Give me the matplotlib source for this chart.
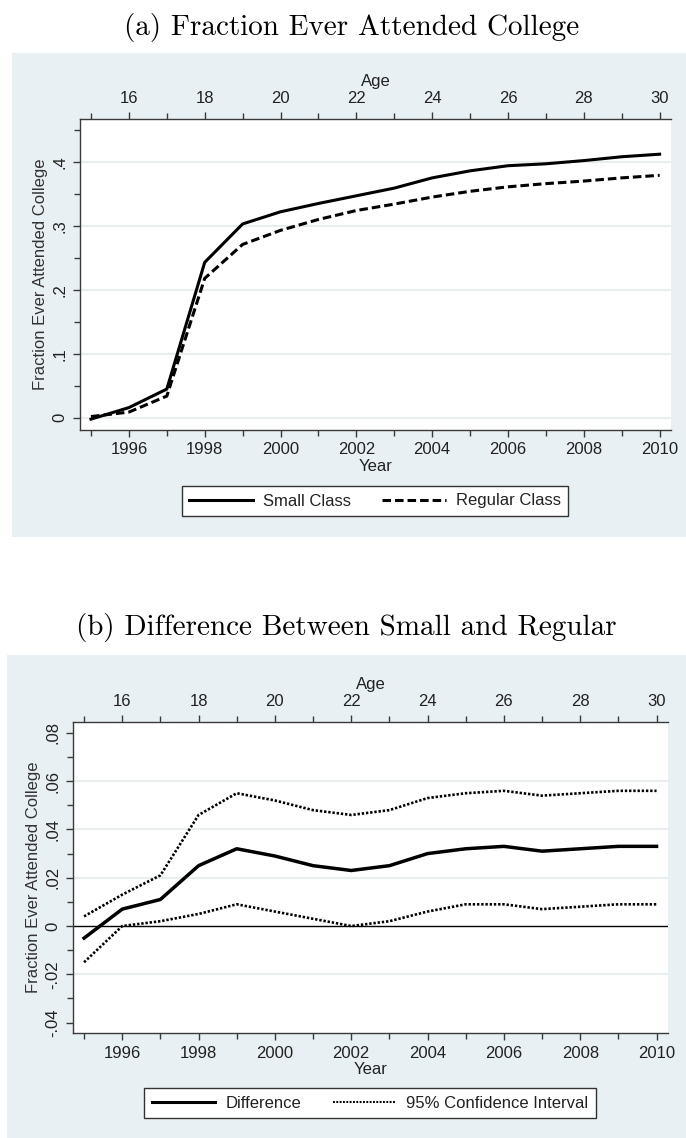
import matplotlib
matplotlib.use("Agg")
import matplotlib.pyplot as plt
from matplotlib.patches import Rectangle
from matplotlib.lines import Line2D
from matplotlib.ticker import FixedLocator, FuncFormatter

years = list(range(1995, 2011))
year_labels = list(range(1996, 2011, 2))
age_labels = list(range(16, 31, 2))

# panel (a): share ever attended college, by class type
small_class = [-0.002, 0.016, 0.045, 0.243, 0.303, 0.322, 0.335, 0.347,
               0.359, 0.375, 0.386, 0.394, 0.397, 0.402, 0.408, 0.412]
regular_class = [0.002, 0.009, 0.034, 0.218, 0.271, 0.293, 0.310, 0.324,
                 0.334, 0.345, 0.354, 0.361, 0.366, 0.370, 0.375, 0.379]

# panel (b): small minus regular with 95% CI
difference = [-0.005, 0.007, 0.011, 0.025, 0.032, 0.029, 0.025, 0.023,
              0.025, 0.030, 0.032, 0.033, 0.031, 0.032, 0.033, 0.033]
ci_upper = [0.004, 0.013, 0.021, 0.046, 0.055, 0.052, 0.048, 0.046,
            0.048, 0.053, 0.055, 0.056, 0.054, 0.055, 0.056, 0.056]
ci_lower = [-0.015, 0.000, 0.002, 0.005, 0.009, 0.006, 0.003, 0.000,
            0.002, 0.006, 0.009, 0.009, 0.007, 0.008, 0.009, 0.009]

W, H = 686, 1138
BG = "#e9f0f3"
AXC = "#3a3a3a"
SANS = "Liberation Sans"
FS = 12
CI_DOTS = (0, (0.9, 0.7))
DASHES = (0, (2.8, 1.3))

fig = plt.figure(figsize=(W / 100, H / 100), dpi=100)


def box(x0, y0, x1, y1):
    # pixel box (top-left origin) -> figure fraction rect
    return [x0 / W, 1 - y1 / H, (x1 - x0) / W, (y1 - y0) / H]


def stata_fmt(v, pos=None):
    if abs(v) < 1e-9:
        return "0"
    s = f"{v:.2f}".rstrip("0").rstrip(".")
    return s.replace("0.", ".", 1)


def add_background(x0, y0, x1, y1):
    l, b, w, h = box(x0, y0, x1, y1)
    fig.patches.append(Rectangle((l, b), w, h, transform=fig.transFigure,
                                 facecolor=BG, edgecolor="none", zorder=-5))


def style_ticks(axis_owner):
    axis_owner.tick_params(which="both", direction="out", color=AXC,
                           width=1.0, labelsize=FS, labelcolor="#222222",
                           pad=4)
    axis_owner.tick_params(which="major", length=5)
    axis_owner.tick_params(which="minor", length=4)


def style_axes(ax, ylim, ymajor, yminor, grid_vals, ylabelpad):
    ax.set_zorder(2)
    ax.set_xlim(1994.71, 2010.3)
    ax.set_ylim(*ylim)
    ax.set_facecolor("white")
    ax.spines["right"].set_visible(False)
    ax.spines["top"].set_visible(False)
    for s in ("left", "bottom"):
        ax.spines[s].set_color(AXC)
        ax.spines[s].set_linewidth(1.0)
    ax.xaxis.set_major_locator(FixedLocator(year_labels))
    ax.xaxis.set_minor_locator(FixedLocator(years))
    ax.yaxis.set_major_locator(FixedLocator(ymajor))
    ax.yaxis.set_minor_locator(FixedLocator(yminor))
    ax.yaxis.set_major_formatter(FuncFormatter(stata_fmt))
    style_ticks(ax)
    for lab in ax.get_yticklabels():
        lab.set_rotation(90)
        lab.set_va("center")
        lab.set_fontfamily(SANS)
    for lab in ax.get_xticklabels():
        lab.set_fontfamily(SANS)
    for v in grid_vals:
        ax.axhline(v, color="#eaeded", lw=1.6, zorder=0.5)
    ax.set_xlabel("Year", fontsize=FS, fontfamily=SANS, color="#222222",
                  labelpad=1)
    ax.set_ylabel("Fraction Ever Attended College", fontsize=FS,
                  fontfamily=SANS, color="#333333", labelpad=ylabelpad)

    top = ax.secondary_xaxis("top", functions=(lambda x: x - 1980,
                                               lambda x: x + 1980))
    top.xaxis.set_major_locator(FixedLocator(age_labels))
    top.xaxis.set_minor_locator(FixedLocator([y - 1980 for y in years]))
    top.spines["top"].set_color(AXC)
    top.spines["top"].set_linewidth(1.0)
    style_ticks(top)
    for lab in top.get_xticklabels():
        lab.set_fontfamily(SANS)
    top.set_xlabel("Age", fontsize=FS, fontfamily=SANS, color="#222222",
                   labelpad=4)
    return top


def add_legend(handles, labels, cx, cy, colsp):
    leg = fig.legend(handles, labels, loc="center",
                     bbox_to_anchor=(cx / W, 1 - cy / H), ncol=2,
                     frameon=True, fancybox=False, framealpha=1,
                     edgecolor="#333333", facecolor="white",
                     handlelength=3.8, handletextpad=0.6,
                     columnspacing=colsp, borderpad=0.45,
                     prop={"family": SANS, "size": FS})
    leg.get_frame().set_linewidth(1.0)
    leg.set_zorder(3)
    for t in leg.get_texts():
        t.set_color("#222222")
    return leg


# ---- panel (a) ----
add_background(12, 53, W, 537)
fig.text(0.512, 1 - 27 / H, "(a) Fraction Ever Attended College",
         fontfamily="cmr10", fontsize=21, ha="center", va="center")
ax1 = fig.add_axes(box(80, 119, 671, 430))
style_axes(ax1, (-0.019, 0.467), [0, 0.1, 0.2, 0.3, 0.4],
           [0.05, 0.15, 0.25, 0.35, 0.45], [0, 0.1, 0.2, 0.3, 0.4], 3)
ax1.plot(years, small_class, color="black", lw=2.2, solid_joinstyle="round")
ax1.plot(years, regular_class, color="black", lw=2.2, linestyle=DASHES)
add_legend([Line2D([], [], color="black", lw=2.2),
            Line2D([], [], color="black", lw=2.2, linestyle=DASHES)],
           ["Small Class", "Regular Class"], 375, 501, 1.9)

# ---- panel (b) ----
add_background(7, 655, W, H)
fig.text(0.505, 1 - 628 / H, "(b) Difference Between Small and Regular",
         fontfamily="cmr10", fontsize=21, ha="center", va="center")
ax2 = fig.add_axes(box(73, 722, 668, 1033))
style_axes(ax2, (-0.0443, 0.0845), [-0.04, -0.02, 0, 0.02, 0.04, 0.06, 0.08],
           [-0.03, -0.01, 0.01, 0.03, 0.05, 0.07], [-0.02, 0.02, 0.04, 0.06],
           3)
ax2.axhline(0, color="black", lw=1.0, zorder=1)
ax2.plot(years, ci_upper, color="black", lw=1.9, linestyle=CI_DOTS)
ax2.plot(years, ci_lower, color="black", lw=1.9, linestyle=CI_DOTS)
ax2.plot(years, difference, color="black", lw=2.5, solid_joinstyle="round")
add_legend([Line2D([], [], color="black", lw=2.2),
            Line2D([], [], color="black", lw=1.5, linestyle=CI_DOTS)],
           ["Difference", "95% Confidence Interval"], 370, 1103, 1.9)

fig.savefig("out.png", dpi=100)
